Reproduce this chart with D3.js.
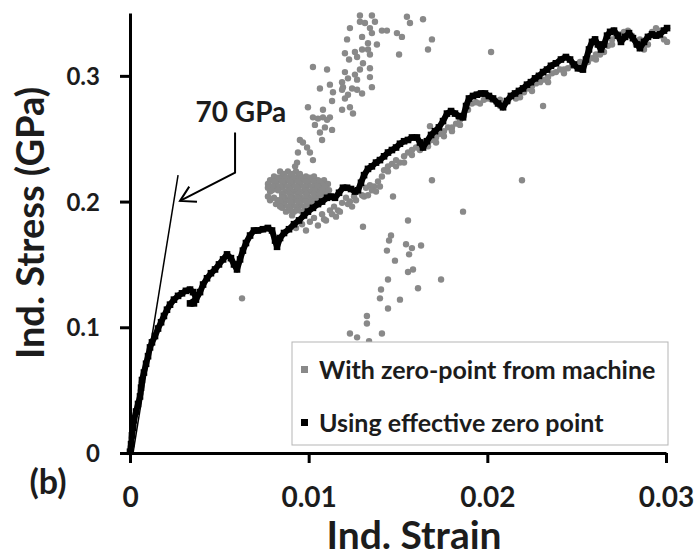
<!DOCTYPE html>
<html>
<head>
<meta charset="utf-8">
<script src="https://cdn.jsdelivr.net/npm/d3@7"></script>
<style>
  body { margin: 0; background: #fff; }
  text { font-family: Lato, "Open Sans", sans-serif; font-weight: bold; fill: #1c1c1c; }
</style>
</head>
<body>
<div id="chart"></div>
<script>
// axis ticks and labels
const xTicks = [0, 0.01, 0.02, 0.03];
const xTickLabels = ["0", "0.01", "0.02", "0.03"];
const yTicks = [0, 0.1, 0.2, 0.3];
const yTickLabels = ["0", "0.1", "0.2", "0.3"];
const seriesNames = ["With zero-point from machine", "Using effective zero point"];

// 70 GPa reference line + arrow (strain, stress)
const modulusLine = [[0.00017, 0], [0.00269, 0.221]];
const modulusArrow = [[0.00588, 0.255], [0.00588, 0.223], [0.0028, 0.2005]];
const modulusLabel = "70 GPa";
const modulusLabelAt = [0.00621, 0.263];

// black series: using effective zero point (strain, stress in GPa)
const effectiveZero = [
  [0, 0.001], [0.00006, 0.007], [0.00011, 0.014], [0.00017, 0.020], [0.00022, 0.026],
  [0.00034, 0.033], [0.00045, 0.039], [0.00056, 0.045], [0.00062, 0.052], [0.00067, 0.058],
  [0.00078, 0.064], [0.00090, 0.071], [0.00101, 0.077], [0.00112, 0.084], [0.00123, 0.088],
  [0.00140, 0.093], [0.00157, 0.099], [0.00174, 0.104], [0.00190, 0.109], [0.00207, 0.114],
  [0.00224, 0.118], [0.00246, 0.122], [0.00269, 0.125], [0.00291, 0.127], [0.00313, 0.129],
  [0.00336, 0.130], [0.00353, 0.128], [0.00369, 0.124], [0.00358, 0.119], [0.00336, 0.119],
  [0.00369, 0.122], [0.00392, 0.128], [0.00409, 0.134], [0.00431, 0.139], [0.00453, 0.143],
  [0.00476, 0.146], [0.00498, 0.150], [0.00521, 0.154], [0.00543, 0.158], [0.00565, 0.155],
  [0.00582, 0.150], [0.00599, 0.146], [0.00616, 0.154], [0.00632, 0.161], [0.00649, 0.167],
  [0.00672, 0.173], [0.00694, 0.177], [0.00716, 0.177], [0.00744, 0.178], [0.00772, 0.179],
  [0.00795, 0.177], [0.00812, 0.169], [0.00823, 0.164], [0.00840, 0.171], [0.00862, 0.175],
  [0.00890, 0.178], [0.00918, 0.182], [0.00946, 0.185], [0.00974, 0.189], [0.00996, 0.192],
  [0.01024, 0.195], [0.01052, 0.198], [0.01075, 0.200], [0.01103, 0.203], [0.01125, 0.204],
  [0.01147, 0.203], [0.01170, 0.207], [0.01192, 0.211], [0.01215, 0.211], [0.01237, 0.210],
  [0.01259, 0.208], [0.01276, 0.209], [0.01293, 0.215], [0.01310, 0.221], [0.01332, 0.226],
  [0.01354, 0.228], [0.01377, 0.231], [0.01399, 0.233], [0.01422, 0.236], [0.01444, 0.239],
  [0.01466, 0.241], [0.01489, 0.243], [0.01511, 0.246], [0.01534, 0.248], [0.01556, 0.249],
  [0.01578, 0.251], [0.01606, 0.251], [0.01623, 0.247], [0.01640, 0.243], [0.01662, 0.248],
  [0.01685, 0.253], [0.01707, 0.256], [0.01729, 0.259], [0.01752, 0.264], [0.01774, 0.270],
  [0.01797, 0.272], [0.01819, 0.270], [0.01841, 0.268], [0.01864, 0.267], [0.01881, 0.276],
  [0.01897, 0.282], [0.01920, 0.284], [0.01942, 0.285], [0.01965, 0.286], [0.01987, 0.286],
  [0.02009, 0.284], [0.02032, 0.282], [0.02060, 0.278], [0.02088, 0.275], [0.02110, 0.280],
  [0.02132, 0.284], [0.02155, 0.286], [0.02177, 0.288], [0.02200, 0.290], [0.02222, 0.293],
  [0.02244, 0.295], [0.02267, 0.298], [0.02289, 0.300], [0.02312, 0.303], [0.02334, 0.305],
  [0.02356, 0.308], [0.02384, 0.310], [0.02412, 0.313], [0.02440, 0.315], [0.02463, 0.313],
  [0.02485, 0.309], [0.02507, 0.306], [0.02535, 0.305], [0.02552, 0.313], [0.02569, 0.321],
  [0.02586, 0.327], [0.02603, 0.329], [0.02619, 0.325], [0.02636, 0.321], [0.02653, 0.325],
  [0.02670, 0.332], [0.02687, 0.335], [0.02709, 0.336], [0.02731, 0.332], [0.02748, 0.327],
  [0.02771, 0.331], [0.02793, 0.334], [0.02815, 0.330], [0.02838, 0.325], [0.02854, 0.322],
  [0.02877, 0.327], [0.02899, 0.331], [0.02922, 0.333], [0.02944, 0.332], [0.02966, 0.333],
  [0.02989, 0.336], [0.03006, 0.338]
];

// grey series: zero-point from machine
const machineZero = [
  // scatter going up
  [0.01287, 0.348], [0.01354, 0.348], [0.01287, 0.343], [0.01315, 0.342], [0.01371, 0.343],
  [0.01231, 0.338], [0.01343, 0.338], [0.01410, 0.336], [0.01438, 0.336], [0.01299, 0.331],
  [0.01354, 0.334], [0.01494, 0.334], [0.01522, 0.331], [0.01550, 0.347], [0.01567, 0.342],
  [0.01640, 0.345], [0.01215, 0.329], [0.01332, 0.326], [0.01382, 0.325], [0.01690, 0.329],
  [0.01668, 0.321], [0.01506, 0.317], [0.01203, 0.318], [0.01259, 0.319], [0.01299, 0.321],
  [0.01332, 0.321], [0.01271, 0.315], [0.01226, 0.313], [0.01343, 0.317], [0.01304, 0.310],
  [0.01024, 0.307], [0.01103, 0.305], [0.01203, 0.303], [0.01287, 0.305], [0.01343, 0.306],
  [0.01259, 0.301], [0.01220, 0.298], [0.01187, 0.295], [0.01271, 0.297], [0.01343, 0.299],
  [0.01119, 0.293], [0.01063, 0.290], [0.01192, 0.291], [0.01243, 0.290], [0.01271, 0.289],
  [0.01354, 0.291], [0.01136, 0.287], [0.01187, 0.289], [0.01220, 0.285], [0.01299, 0.286],
  [0.01203, 0.282], [0.01131, 0.280], [0.00996, 0.275], [0.01080, 0.273], [0.01187, 0.273],
  [0.01231, 0.275], [0.01248, 0.270], [0.01024, 0.267], [0.01080, 0.267], [0.01119, 0.267],
  [0.01052, 0.266], [0.01103, 0.265], [0.01035, 0.261], [0.01091, 0.259], [0.01131, 0.257],
  [0.01063, 0.255], [0.01075, 0.249], [0.00951, 0.249], [0.00968, 0.247], [0.00991, 0.243],
  [0.00940, 0.239], [0.01007, 0.239], [0.01024, 0.233], [0.00935, 0.231], [0.00924, 0.228],
  // dense cluster
  [0.00840, 0.224], [0.00884, 0.224], [0.00929, 0.224],
  [0.00806, 0.220], [0.00851, 0.220], [0.00896, 0.220], [0.00940, 0.220], [0.00985, 0.220], [0.01030, 0.220],
  [0.00784, 0.217], [0.00828, 0.217], [0.00873, 0.217], [0.00918, 0.217], [0.00963, 0.217], [0.01007, 0.217],
  [0.01052, 0.217], [0.01086, 0.217],
  [0.00772, 0.214], [0.00817, 0.214], [0.00862, 0.214], [0.00907, 0.214], [0.00951, 0.214], [0.00996, 0.214],
  [0.01041, 0.214], [0.01075, 0.214], [0.01108, 0.214],
  [0.00772, 0.211], [0.00806, 0.211], [0.00851, 0.211], [0.00896, 0.211], [0.00940, 0.211], [0.00985, 0.211],
  [0.01030, 0.211], [0.01063, 0.211], [0.01097, 0.211],
  [0.00784, 0.208], [0.00873, 0.208], [0.00918, 0.208], [0.00963, 0.208], [0.01007, 0.208], [0.01052, 0.208],
  [0.01086, 0.208],
  [0.00772, 0.204], [0.00862, 0.204], [0.00907, 0.204], [0.00951, 0.204], [0.00996, 0.204], [0.01041, 0.204],
  [0.01075, 0.204],
  [0.00784, 0.201], [0.00828, 0.201], [0.00873, 0.201], [0.00918, 0.201], [0.00963, 0.201], [0.01007, 0.201],
  [0.01052, 0.201],
  [0.00817, 0.198], [0.00862, 0.198], [0.00907, 0.198], [0.00951, 0.198], [0.00996, 0.198], [0.01030, 0.198],
  [0.00851, 0.195], [0.00896, 0.195], [0.00940, 0.195], [0.00985, 0.195],
  [0.00873, 0.192], [0.00918, 0.192], [0.00963, 0.192], [0.00907, 0.189],
  [0.00862, 0.222], [0.00907, 0.222], [0.00951, 0.222],
  [0.00828, 0.219], [0.00873, 0.219], [0.00918, 0.219], [0.00963, 0.219], [0.01007, 0.219],
  [0.00806, 0.216], [0.00851, 0.216], [0.00896, 0.216], [0.00940, 0.216], [0.00985, 0.216], [0.01030, 0.216],
  [0.01063, 0.216],
  [0.00795, 0.212], [0.00840, 0.212], [0.00884, 0.212], [0.00929, 0.212], [0.00974, 0.212], [0.01019, 0.212],
  [0.01052, 0.212], [0.01091, 0.212],
  [0.00795, 0.209], [0.00828, 0.209], [0.00896, 0.209], [0.00940, 0.209], [0.00985, 0.209], [0.01030, 0.209],
  [0.01075, 0.209], [0.01114, 0.209],
  [0.00851, 0.206], [0.00896, 0.206], [0.00940, 0.206], [0.00985, 0.206], [0.01030, 0.206], [0.01063, 0.206],
  [0.01103, 0.206],
  [0.00806, 0.203], [0.00851, 0.203], [0.00896, 0.203], [0.00940, 0.203], [0.00985, 0.203], [0.01030, 0.203],
  [0.01075, 0.203],
  [0.00840, 0.200], [0.00896, 0.200], [0.00940, 0.200], [0.00985, 0.200], [0.01030, 0.200],
  [0.00840, 0.196], [0.00884, 0.196], [0.00929, 0.196], [0.00974, 0.196], [0.01019, 0.196],
  [0.00896, 0.193], [0.00940, 0.193],
  // band under the black curve
  [0.00929, 0.179], [0.00963, 0.182], [0.00985, 0.177], [0.01007, 0.184], [0.01030, 0.187],
  [0.01052, 0.181], [0.01075, 0.190], [0.01097, 0.185], [0.01119, 0.193], [0.01142, 0.196],
  [0.01164, 0.193], [0.01187, 0.199], [0.01209, 0.203], [0.01231, 0.200], [0.01254, 0.204],
  [0.01276, 0.208], [0.01299, 0.205], [0.01321, 0.211], [0.01343, 0.213], [0.01366, 0.212],
  [0.01388, 0.216], [0.01410, 0.220], [0.01422, 0.225], [0.01444, 0.228], [0.01466, 0.230],
  [0.01489, 0.233], [0.01511, 0.231], [0.01534, 0.236], [0.01556, 0.239], [0.01578, 0.241],
  [0.01601, 0.243], [0.01623, 0.244], [0.01646, 0.247], [0.01668, 0.247], [0.01690, 0.249],
  [0.01713, 0.251], [0.01735, 0.254], [0.01757, 0.256], [0.01780, 0.259], [0.01802, 0.259],
  [0.01825, 0.262], [0.01847, 0.265], [0.01869, 0.268], [0.01892, 0.273], [0.01914, 0.278],
  [0.01937, 0.279], [0.01959, 0.278], [0.01981, 0.281], [0.02004, 0.282], [0.02026, 0.281],
  [0.02049, 0.279], [0.02071, 0.281], [0.02093, 0.278], [0.02116, 0.280], [0.02138, 0.284],
  [0.02160, 0.286], [0.02183, 0.283], [0.02205, 0.287], [0.02228, 0.290], [0.02250, 0.292],
  [0.02272, 0.294], [0.02295, 0.295], [0.02317, 0.297], [0.02340, 0.299], [0.02362, 0.302],
  [0.02384, 0.303], [0.02407, 0.305], [0.02429, 0.305], [0.02451, 0.306], [0.02474, 0.308],
  [0.02496, 0.309], [0.02519, 0.311], [0.02541, 0.309], [0.02563, 0.311], [0.02586, 0.314],
  [0.02608, 0.317], [0.02631, 0.317], [0.02653, 0.319], [0.02675, 0.324], [0.02698, 0.329],
  [0.02720, 0.332], [0.02743, 0.333], [0.02765, 0.335], [0.02787, 0.336], [0.02810, 0.332],
  [0.02832, 0.325], [0.02854, 0.329], [0.02877, 0.324], [0.02899, 0.325], [0.02922, 0.335],
  [0.02944, 0.338], [0.02966, 0.336], [0.02989, 0.329], [0.03006, 0.327],
  [0.01086, 0.186], [0.01131, 0.190], [0.01175, 0.192], [0.01220, 0.198], [0.01265, 0.201],
  [0.01310, 0.204], [0.01354, 0.209], [0.01399, 0.212], [0.01444, 0.224], [0.01489, 0.228],
  [0.01534, 0.231], [0.01578, 0.237], [0.01623, 0.241], [0.01668, 0.244], [0.01713, 0.247],
  [0.01757, 0.252], [0.01802, 0.256], [0.01847, 0.261], [0.01153, 0.188], [0.01243, 0.196],
  [0.01332, 0.205], [0.01377, 0.208],
  [0.02071, 0.276], [0.02160, 0.282], [0.02250, 0.288], [0.02340, 0.295], [0.02429, 0.302],
  [0.02519, 0.307], [0.02608, 0.313], [0.02698, 0.325], [0.02787, 0.332], [0.02877, 0.321],
  [0.02966, 0.332],
  // scatter going down + strays
  [0.00627, 0.123], [0.01304, 0.180], [0.01556, 0.185], [0.01461, 0.173], [0.01450, 0.169],
  [0.01545, 0.166], [0.01578, 0.163], [0.01629, 0.165], [0.01438, 0.161], [0.01562, 0.158],
  [0.01483, 0.153], [0.01556, 0.144], [0.01584, 0.146], [0.01444, 0.138], [0.01741, 0.138],
  [0.01405, 0.130], [0.01612, 0.131], [0.01399, 0.123], [0.01511, 0.122], [0.01444, 0.115],
  [0.01326, 0.109], [0.01326, 0.103], [0.01231, 0.095], [0.01271, 0.092], [0.01410, 0.095],
  [0.01338, 0.089], [0.01864, 0.192], [0.01690, 0.217], [0.02194, 0.217], [0.02312, 0.276],
  [0.02021, 0.319], [0.01679, 0.260], [0.01472, 0.204]
];

var width = 699;
var height = 557;
var margins = { top: 13, right: 33, bottom: 104, left: 130 };
var grey = "#898989";

var svg = d3.select("#chart")
  .append("svg")
  .attr("width", width)
  .attr("height", height);

const x = d3.scaleLinear()
  .domain([0, 0.03])
  .range([margins.left, width - margins.right]);
const y = d3.scaleLinear()
  .domain([0, 0.35])
  .range([height - margins.bottom, margins.top]);

// grey points first, black drawn on top
svg.append("g")
  .selectAll("circle")
  .data(machineZero)
  .enter()
  .append("circle")
  .attr("cx", d => x(d[0]))
  .attr("cy", d => y(d[1]))
  .attr("r", 3.2)
  .attr("fill", grey);

const line = d3.line().x(d => x(d[0])).y(d => y(d[1]));

svg.append("path")
  .datum(effectiveZero)
  .attr("d", line)
  .attr("fill", "none")
  .attr("stroke", "#000")
  .attr("stroke-width", 6)
  .attr("stroke-linejoin", "round")
  .attr("stroke-linecap", "round");

svg.append("g")
  .selectAll("rect")
  .data(effectiveZero)
  .enter()
  .append("rect")
  .attr("x", d => x(d[0]) - 3.3)
  .attr("y", d => y(d[1]) - 3.3)
  .attr("width", 6.6)
  .attr("height", 6.6)
  .attr("fill", "#000");

// 70 GPa slope line and arrow
svg.append("path")
  .datum(modulusLine)
  .attr("d", line)
  .attr("stroke", "#000")
  .attr("stroke-width", 1.5)
  .attr("fill", "none");

svg.append("path")
  .datum(modulusArrow)
  .attr("d", line)
  .attr("stroke", "#000")
  .attr("stroke-width", 2)
  .attr("fill", "none");

// open arrow head
const tip = modulusArrow[2], prev = modulusArrow[1];
const ang = Math.atan2(y(prev[1]) - y(tip[1]), x(prev[0]) - x(tip[0]));
const head = [ang - Math.PI / 6, ang + Math.PI / 6].map(a =>
  [x(tip[0]) + 17 * Math.cos(a), y(tip[1]) + 17 * Math.sin(a)]);
svg.append("path")
  .attr("d", `M${head[0]}L${x(tip[0])},${y(tip[1])}L${head[1]}`)
  .attr("stroke", "#000")
  .attr("stroke-width", 2)
  .attr("fill", "none");

svg.append("text")
  .attr("x", x(modulusLabelAt[0]))
  .attr("y", y(modulusLabelAt[1]))
  .attr("text-anchor", "middle")
  .style("font-size", "28px")
  .text(modulusLabel);

// axes
const xAxis = d3.axisBottom(x)
  .tickValues(xTicks)
  .tickFormat((d, i) => xTickLabels[i])
  .tickSize(10)
  .tickSizeOuter(0);
const yAxis = d3.axisLeft(y)
  .tickValues(yTicks)
  .tickFormat((d, i) => yTickLabels[i])
  .tickSize(10)
  .tickSizeOuter(0);

const gx = svg.append("g")
  .attr("transform", `translate(0, ${height - margins.bottom})`)
  .call(xAxis);
gx.selectAll("text")
  .attr("y", 54)
  .attr("dy", null)
  .style("font-size", "28px")
  .style("font-family", "Lato, sans-serif");

const gy = svg.append("g")
  .attr("transform", `translate(${margins.left}, 0)`)
  .call(yAxis);
gy.selectAll("text")
  .attr("x", -30)
  .attr("dy", "0.36em")
  .style("font-size", "24px")
  .style("font-family", "Lato, sans-serif");

svg.selectAll(".domain, .tick line")
  .attr("stroke", "#000")
  .attr("stroke-width", 3);
svg.selectAll(".tick text").attr("fill", "#1c1c1c");

// axis titles
svg.append("text")
  .attr("transform", "translate(44, 223) rotate(-90)")
  .attr("text-anchor", "middle")
  .style("font-size", "38px")
  .text("Ind. Stress (GPa)");

svg.append("text")
  .attr("x", 414)
  .attr("y", 549)
  .attr("text-anchor", "middle")
  .style("font-size", "39px")
  .text("Ind. Strain");

svg.append("text")
  .attr("x", 48)
  .attr("y", 494)
  .attr("text-anchor", "middle")
  .style("font-size", "34px")
  .text("(b)");

// legend
const legend = svg.append("g").attr("transform", "translate(292, 342)");
legend.append("rect")
  .attr("width", 376)
  .attr("height", 103)
  .attr("fill", "#fff")
  .attr("stroke", "#b5b5b5")
  .attr("stroke-width", 1);

const legendColors = [grey, "#000"];
const items = legend.selectAll("g.item")
  .data(seriesNames)
  .enter()
  .append("g")
  .attr("transform", (d, i) => `translate(0, ${28 + i * 53})`);
items.append("rect")
  .attr("x", 9)
  .attr("y", -4)
  .attr("width", 7)
  .attr("height", 7)
  .attr("fill", (d, i) => legendColors[i]);
items.append("text")
  .attr("x", 27)
  .attr("y", 9)
  .style("font-size", "25px")
  .text(d => d);
</script>
</body>
</html>
